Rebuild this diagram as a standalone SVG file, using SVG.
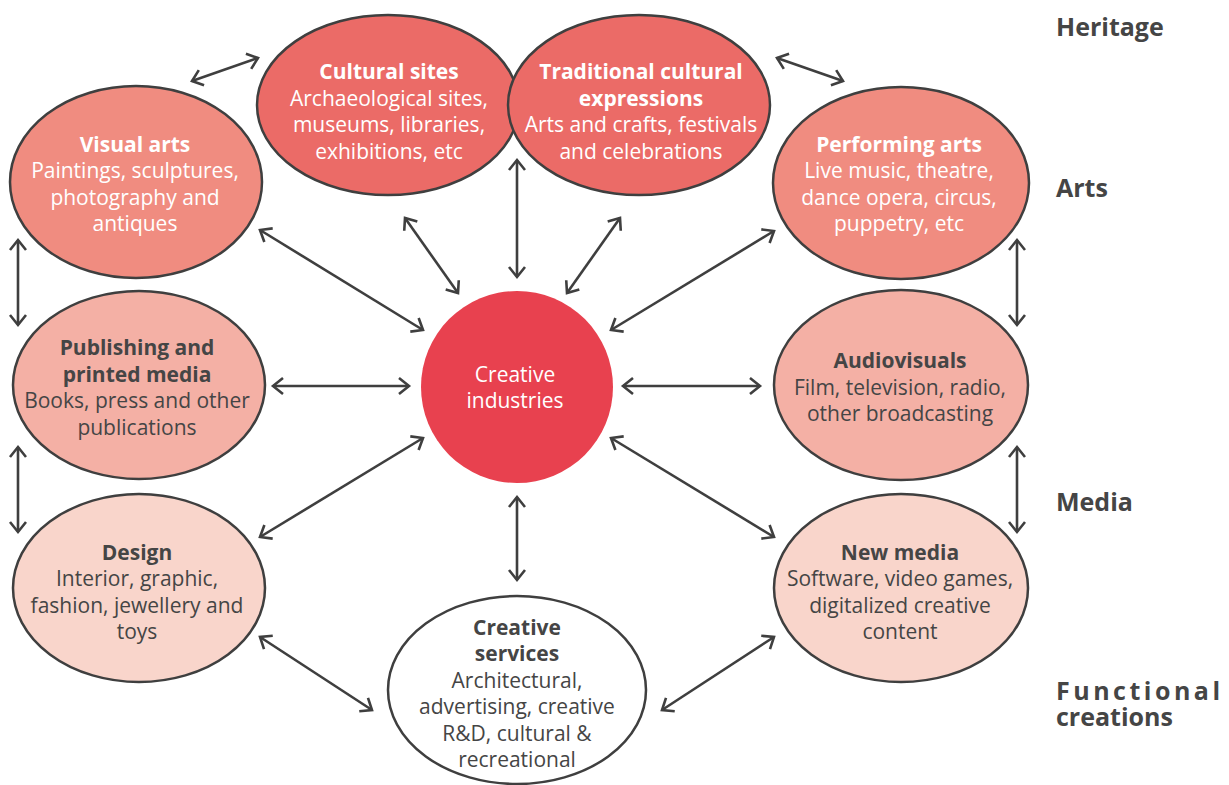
<svg xmlns="http://www.w3.org/2000/svg" width="1229" height="785" viewBox="0 0 1229 785">
<style>
.n{stroke:#3f3f3f;stroke-width:2.5}
.t{font-family:"Open Sans","Noto Sans","Liberation Sans",sans-serif;font-size:21px;text-anchor:middle}
.b{font-weight:700}
.w{fill:#ffffff}
.d{fill:#454545}
.c line{stroke:#3f3f3f;stroke-width:2.6;marker-start:url(#ah);marker-end:url(#ah)}
.lab{font-family:"Open Sans","Noto Sans","Liberation Sans",sans-serif;font-size:25px;font-weight:700;fill:#454545}
</style>
<defs>
<marker id="ah" viewBox="-2 -2 16 20" markerWidth="16" markerHeight="20" refX="10" refY="8" orient="auto-start-reverse" markerUnits="userSpaceOnUse">
<path d="M0,0 L10,8 L0,16" fill="none" stroke="#3f3f3f" stroke-width="2.6"/>
</marker>
</defs>
<rect width="1229" height="785" fill="#ffffff"/>
<g id="connectors" class="c">
<line x1="192" y1="81" x2="258" y2="58"/>
<line x1="777" y1="58" x2="843" y2="81"/>
<line x1="18" y1="240" x2="18" y2="325"/>
<line x1="18" y1="447" x2="18" y2="532"/>
<line x1="1017" y1="240" x2="1017" y2="325"/>
<line x1="1017" y1="447" x2="1017" y2="532"/>
<line x1="260" y1="230" x2="423" y2="330"/>
<line x1="405" y1="218" x2="458" y2="293"/>
<line x1="517" y1="160" x2="517" y2="277"/>
<line x1="620" y1="218" x2="567" y2="293"/>
<line x1="774" y1="231" x2="611" y2="330"/>
<line x1="273" y1="386" x2="409" y2="386"/>
<line x1="623" y1="386" x2="760" y2="386"/>
<line x1="423" y1="438" x2="260" y2="537"/>
<line x1="611" y1="438" x2="774" y2="537"/>
<line x1="517" y1="497" x2="517" y2="580"/>
<line x1="260" y1="637" x2="372" y2="710"/>
<line x1="774" y1="637" x2="662" y2="710"/>
</g>
<g id="cultural-sites">
<ellipse class="n" cx="388" cy="105" rx="131" ry="90" fill="#eb6b67"/>
<text class="t w b" x="389" y="79">Cultural sites</text>
<text class="t w" x="389" y="106">Archaeological sites,</text>
<text class="t w" x="389" y="132">museums, libraries,</text>
<text class="t w" x="389" y="159">exhibitions, etc</text>
</g>
<g id="traditional">
<ellipse class="n" cx="639" cy="105" rx="131" ry="90" fill="#eb6b67"/>
<text class="t w b" x="641" y="79">Traditional cultural</text>
<text class="t w b" x="641" y="106">expressions</text>
<text class="t w" x="641" y="132">Arts and crafts, festivals</text>
<text class="t w" x="641" y="159">and celebrations</text>
</g>
<g id="visual-arts">
<ellipse class="n" cx="136" cy="182" rx="126" ry="96" fill="#f08c80"/>
<text class="t w b" x="135" y="152">Visual arts</text>
<text class="t w" x="135" y="178">Paintings, sculptures,</text>
<text class="t w" x="135" y="205">photography and</text>
<text class="t w" x="135" y="231">antiques</text>
</g>
<g id="performing-arts">
<ellipse class="n" cx="901" cy="183" rx="128" ry="96" fill="#f08c80"/>
<text class="t w b" x="899" y="152">Performing arts</text>
<text class="t w" x="899" y="178">Live music, theatre,</text>
<text class="t w" x="899" y="205">dance opera, circus,</text>
<text class="t w" x="899" y="231">puppetry, etc</text>
</g>
<g id="publishing">
<ellipse class="n" cx="139" cy="385" rx="126" ry="94" fill="#f4b0a5"/>
<text class="t d b" x="137" y="355">Publishing and</text>
<text class="t d b" x="137" y="382">printed media</text>
<text class="t d" x="137" y="408">Books, press and other</text>
<text class="t d" x="137" y="435">publications</text>
</g>
<g id="audiovisuals">
<ellipse class="n" cx="901" cy="385" rx="127" ry="95" fill="#f4b0a5"/>
<text class="t d b" x="900" y="368">Audiovisuals</text>
<text class="t d" x="900" y="395">Film, television, radio,</text>
<text class="t d" x="900" y="421">other broadcasting</text>
</g>
<g id="design">
<ellipse class="n" cx="139" cy="588" rx="126" ry="94" fill="#f9d5cb"/>
<text class="t d b" x="137" y="560">Design</text>
<text class="t d" x="137" y="586">Interior, graphic,</text>
<text class="t d" x="137" y="613">fashion, jewellery and</text>
<text class="t d" x="137" y="639">toys</text>
</g>
<g id="new-media">
<ellipse class="n" cx="901" cy="588" rx="127" ry="94" fill="#f9d5cb"/>
<text class="t d b" x="900" y="560">New media</text>
<text class="t d" x="900" y="586">Software, video games,</text>
<text class="t d" x="900" y="613">digitalized creative</text>
<text class="t d" x="900" y="639">content</text>
</g>
<g id="creative-services">
<ellipse class="n" cx="517" cy="690" rx="129" ry="94" fill="#ffffff"/>
<text class="t d b" x="517" y="635">Creative</text>
<text class="t d b" x="517" y="661">services</text>
<text class="t d" x="517" y="688">Architectural,</text>
<text class="t d" x="517" y="714">advertising, creative</text>
<text class="t d" x="517" y="741">R&amp;D, cultural &amp;</text>
<text class="t d" x="517" y="767">recreational</text>
</g>
<g id="creative-industries">
<circle cx="517" cy="387" r="96" fill="#e8414f"/>
<text class="t w" x="515" y="382">Creative</text>
<text class="t w" x="515" y="408">industries</text>
</g>
<g id="labels">
<text class="lab" x="1056" y="36">Heritage</text>
<text class="lab" x="1056" y="197">Arts</text>
<text class="lab" x="1056" y="511">Media</text>
<text class="lab" x="1056" y="700"><tspan letter-spacing="3.5">Functional</tspan><tspan x="1056" y="726">creations</tspan></text>
</g>
</svg>
